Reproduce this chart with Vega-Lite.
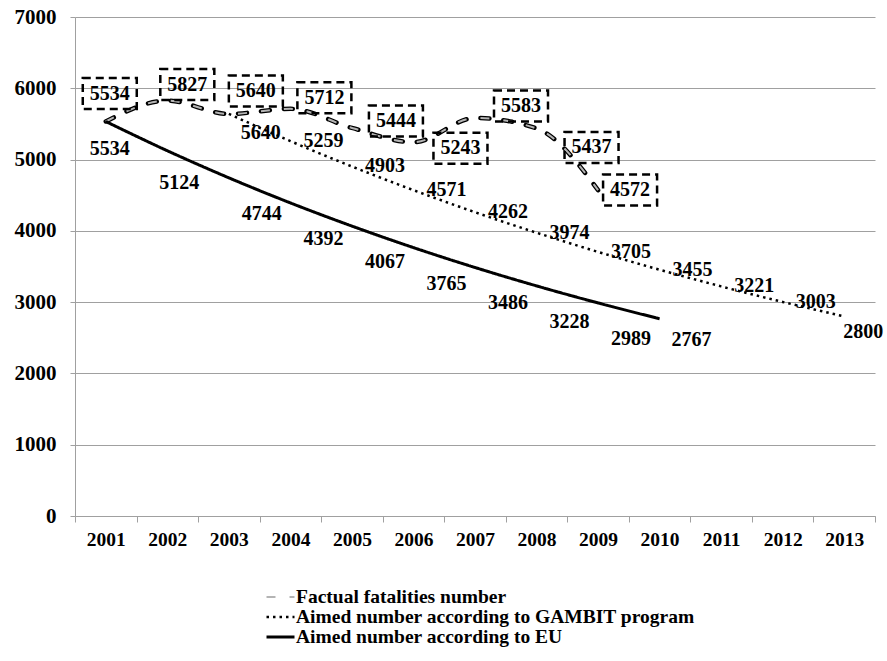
{
  "$schema": "https://vega.github.io/schema/vega-lite/v6.json",
  "width": 800,
  "height": 499,
  "autosize": "none",
  "padding": {"left": 75, "top": 17, "right": 12, "bottom": 145},
  "background": "white",
  "config": {
    "view": {"stroke": null},
    "font": "Liberation Serif",
    "axis": {
      "labelFont": "Liberation Serif",
      "labelFontWeight": "bold",
      "labelColor": "black",
      "domainColor": "#a0a0a0",
      "tickColor": "#a0a0a0",
      "gridColor": "#a0a0a0",
      "domainWidth": 1,
      "tickWidth": 1,
      "gridWidth": 1,
      "title": null
    },
    "text": {"fontSize": 20, "fontWeight": "bold", "font": "Liberation Serif", "color": "black", "align": "center", "baseline": "middle"},
    "point": {"shape": "M-1,-0.574L1,-0.574L1,0.574L-1,0.574Z", "size": 2916, "filled": false, "color": "black", "stroke": "black", "strokeWidth": 2.5, "strokeDash": [8, 5], "opacity": 1}
  },
  "data": {
    "values": [
      {"year": "2001", "series": "Factual fatalities number", "value": 5534},
      {"year": "2002", "series": "Factual fatalities number", "value": 5827},
      {"year": "2003", "series": "Factual fatalities number", "value": 5640},
      {"year": "2004", "series": "Factual fatalities number", "value": 5712},
      {"year": "2005", "series": "Factual fatalities number", "value": 5444},
      {"year": "2006", "series": "Factual fatalities number", "value": 5243},
      {"year": "2007", "series": "Factual fatalities number", "value": 5583},
      {"year": "2008", "series": "Factual fatalities number", "value": 5437},
      {"year": "2009", "series": "Factual fatalities number", "value": 4572},
      {"year": "2003", "series": "Aimed number according to GAMBIT program", "value": 5640},
      {"year": "2004", "series": "Aimed number according to GAMBIT program", "value": 5259},
      {"year": "2005", "series": "Aimed number according to GAMBIT program", "value": 4903},
      {"year": "2006", "series": "Aimed number according to GAMBIT program", "value": 4571},
      {"year": "2007", "series": "Aimed number according to GAMBIT program", "value": 4262},
      {"year": "2008", "series": "Aimed number according to GAMBIT program", "value": 3974},
      {"year": "2009", "series": "Aimed number according to GAMBIT program", "value": 3705},
      {"year": "2010", "series": "Aimed number according to GAMBIT program", "value": 3455},
      {"year": "2011", "series": "Aimed number according to GAMBIT program", "value": 3221},
      {"year": "2012", "series": "Aimed number according to GAMBIT program", "value": 3003},
      {"year": "2013", "series": "Aimed number according to GAMBIT program", "value": 2800},
      {"year": "2001", "series": "Aimed number according to EU", "value": 5534},
      {"year": "2002", "series": "Aimed number according to EU", "value": 5124},
      {"year": "2003", "series": "Aimed number according to EU", "value": 4744},
      {"year": "2004", "series": "Aimed number according to EU", "value": 4392},
      {"year": "2005", "series": "Aimed number according to EU", "value": 4067},
      {"year": "2006", "series": "Aimed number according to EU", "value": 3765},
      {"year": "2007", "series": "Aimed number according to EU", "value": 3486},
      {"year": "2008", "series": "Aimed number according to EU", "value": 3228},
      {"year": "2009", "series": "Aimed number according to EU", "value": 2989},
      {"year": "2010", "series": "Aimed number according to EU", "value": 2767}
    ]
  },
  "encoding": {
    "x": {
      "field": "year",
      "type": "ordinal",
      "bandPosition": 0.5,
      "scale": {
        "type": "band",
        "domain": ["2001","2002","2003","2004","2005","2006","2007","2008","2009","2010","2011","2012","2013"],
        "paddingInner": 0,
        "paddingOuter": 0
      },
      "axis": {
        "tickBand": "extent",
        "labelAngle": 0,
        "labelFontSize": 19.5,
        "labelPadding": 8,
        "tickSize": 6,
        "grid": false
      }
    },
    "y": {
      "field": "value",
      "type": "quantitative",
      "scale": {"domain": [0, 7000], "nice": false},
      "axis": {
        "values": [0, 1000, 2000, 3000, 4000, 5000, 6000, 7000],
        "format": "d",
        "labelFontSize": 21,
        "labelPadding": 14,
        "tickSize": 5,
        "grid": true
      }
    }
  },
  "layer": [
    {
      "transform": [{"filter": "datum.series === 'Factual fatalities number'"}],
      "mark": {"type": "line", "color": "black", "strokeWidth": 4.5, "strokeDash": [9, 14], "strokeCap": "round", "interpolate": "monotone"}
    },
    {
      "mark": {"type": "line", "interpolate": "monotone"},
      "encoding": {
        "color": {
          "field": "series",
          "type": "nominal",
          "scale": {
            "domain": ["Factual fatalities number", "Aimed number according to GAMBIT program", "Aimed number according to EU"],
            "range": ["#b4b4b4", "black", "black"]
          },
          "legend": {
            "title": null,
            "orient": "none",
            "legendX": 190,
            "legendY": 572,
            "direction": "vertical",
            "symbolType": "M-1,0L1,0",
            "symbolSize": 784,
            "clipHeight": 16,
            "labelFont": "Liberation Serif",
            "labelFontWeight": "bold",
            "labelFontSize": 19.5,
            "labelColor": "black",
            "labelOffset": 0,
            "labelLimit": 600,
            "rowPadding": 0,
            "padding": 0
          }
        },
        "strokeDash": {
          "field": "series",
          "type": "nominal",
          "scale": {
            "domain": ["Factual fatalities number", "Aimed number according to GAMBIT program", "Aimed number according to EU"],
            "range": [[9, 14], [2.5, 4], [1, 0]]
          }
        },
        "strokeWidth": {
          "field": "series",
          "type": "nominal",
          "scale": {
            "type": "ordinal",
            "domain": ["Factual fatalities number", "Aimed number according to GAMBIT program", "Aimed number according to EU"],
            "range": [2, 2.5, 3]
          }
        }
      }
    },
    {
      "transform": [{"filter": "datum.series === 'Factual fatalities number' && datum.year === '2001'"}],
      "encoding": {"text": {"field": "value", "type": "quantitative", "format": "d"}},
      "layer": [
        {"mark": {"type": "point", "xOffset": 4, "yOffset": -28}},
        {"mark": {"type": "text", "dx": 4, "dy": -28}}
      ]
    },
    {
      "transform": [{"filter": "datum.series === 'Factual fatalities number' && datum.year === '2002'"}],
      "encoding": {"text": {"field": "value", "type": "quantitative", "format": "d"}},
      "layer": [
        {"mark": {"type": "point", "xOffset": 20, "yOffset": -16}},
        {"mark": {"type": "text", "dx": 20, "dy": -16}}
      ]
    },
    {
      "transform": [{"filter": "datum.series === 'Factual fatalities number' && datum.year === '2003'"}],
      "encoding": {"text": {"field": "value", "type": "quantitative", "format": "d"}},
      "layer": [
        {"mark": {"type": "point", "xOffset": 27, "yOffset": -23}},
        {"mark": {"type": "text", "dx": 27, "dy": -23}}
      ]
    },
    {
      "transform": [{"filter": "datum.series === 'Factual fatalities number' && datum.year === '2004'"}],
      "encoding": {"text": {"field": "value", "type": "quantitative", "format": "d"}},
      "layer": [
        {"mark": {"type": "point", "xOffset": 34, "yOffset": -11}},
        {"mark": {"type": "text", "dx": 34, "dy": -11}}
      ]
    },
    {
      "transform": [{"filter": "datum.series === 'Factual fatalities number' && datum.year === '2005'"}],
      "encoding": {"text": {"field": "value", "type": "quantitative", "format": "d"}},
      "layer": [
        {"mark": {"type": "point", "xOffset": 44, "yOffset": -7}},
        {"mark": {"type": "text", "dx": 44, "dy": -7}}
      ]
    },
    {
      "transform": [{"filter": "datum.series === 'Factual fatalities number' && datum.year === '2006'"}],
      "encoding": {"text": {"field": "value", "type": "quantitative", "format": "d"}},
      "layer": [
        {"mark": {"type": "point", "xOffset": 47, "yOffset": 6}},
        {"mark": {"type": "text", "dx": 47, "dy": 6}}
      ]
    },
    {
      "transform": [{"filter": "datum.series === 'Factual fatalities number' && datum.year === '2007'"}],
      "encoding": {"text": {"field": "value", "type": "quantitative", "format": "d"}},
      "layer": [
        {"mark": {"type": "point", "xOffset": 46, "yOffset": -12}},
        {"mark": {"type": "text", "dx": 46, "dy": -12}}
      ]
    },
    {
      "transform": [{"filter": "datum.series === 'Factual fatalities number' && datum.year === '2008'"}],
      "encoding": {"text": {"field": "value", "type": "quantitative", "format": "d"}},
      "layer": [
        {"mark": {"type": "point", "xOffset": 55, "yOffset": 19}},
        {"mark": {"type": "text", "dx": 55, "dy": 19}}
      ]
    },
    {
      "transform": [{"filter": "datum.series === 'Factual fatalities number' && datum.year === '2009'"}],
      "encoding": {"text": {"field": "value", "type": "quantitative", "format": "d"}},
      "layer": [
        {"mark": {"type": "point", "xOffset": 32, "yOffset": 0}},
        {"mark": {"type": "text", "dx": 32, "dy": 0}}
      ]
    },
    {
      "transform": [{"filter": "datum.series === 'Aimed number according to GAMBIT program' && datum.year === '2003'"}],
      "mark": {"type": "text", "dx": 32, "dy": 19},
      "encoding": {"text": {"field": "value", "type": "quantitative", "format": "d"}}
    },
    {
      "transform": [{"filter": "datum.series === 'Aimed number according to GAMBIT program' && datum.year !== '2003' && datum.year !== '2013'"}],
      "mark": {"type": "text", "dx": 33, "dy": 0},
      "encoding": {"text": {"field": "value", "type": "quantitative", "format": "d"}}
    },
    {
      "transform": [{"filter": "datum.series === 'Aimed number according to GAMBIT program' && datum.year === '2013'"}],
      "mark": {"type": "text", "dx": 19, "dy": 16},
      "encoding": {"text": {"field": "value", "type": "quantitative", "format": "d"}}
    },
    {
      "transform": [{"filter": "datum.series === 'Aimed number according to EU' && datum.year === '2001'"}],
      "mark": {"type": "text", "dx": 4, "dy": 27},
      "encoding": {"text": {"field": "value", "type": "quantitative", "format": "d"}}
    },
    {
      "transform": [{"filter": "datum.series === 'Aimed number according to EU' && datum.year === '2002'"}],
      "mark": {"type": "text", "dx": 12, "dy": 32},
      "encoding": {"text": {"field": "value", "type": "quantitative", "format": "d"}}
    },
    {
      "transform": [{"filter": "datum.series === 'Aimed number according to EU' && datum.year !== '2001' && datum.year !== '2002' && datum.year !== '2010'"}],
      "mark": {"type": "text", "dx": 33, "dy": 36},
      "encoding": {"text": {"field": "value", "type": "quantitative", "format": "d"}}
    },
    {
      "transform": [{"filter": "datum.series === 'Aimed number according to EU' && datum.year === '2010'"}],
      "mark": {"type": "text", "dx": 32, "dy": 21},
      "encoding": {"text": {"field": "value", "type": "quantitative", "format": "d"}}
    }
  ]
}
